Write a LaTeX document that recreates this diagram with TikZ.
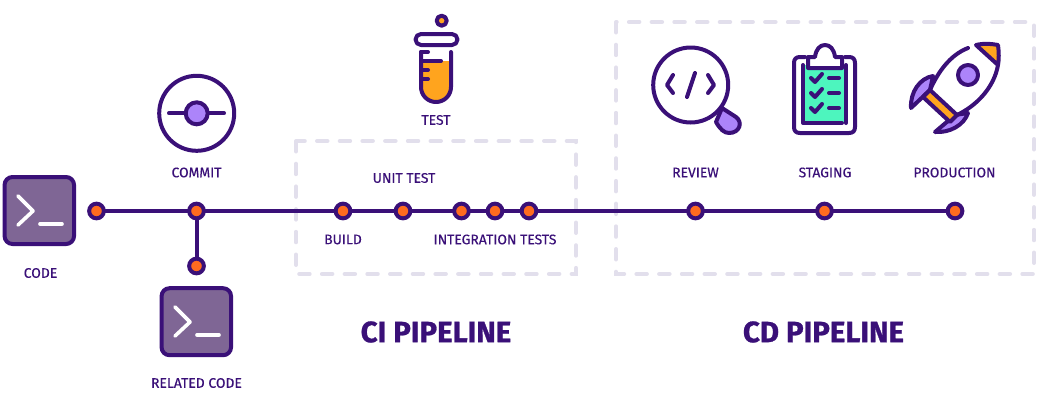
\documentclass[tikz,border=0pt]{standalone}
\usepackage{fontspec}
\setmainfont{Fira Sans}
\newfontfamily\lblfont{Fira Sans}[FakeBold=0.35]
\newfontfamily\titlefont{Fira Sans Bold}[FakeBold=0.9]
\usetikzlibrary{positioning}

\definecolor{inkpurple}{HTML}{3A1078}
\definecolor{dotorange}{HTML}{FF6B1F}
\definecolor{boxpurple}{HTML}{7F6695}
\definecolor{lilac}{HTML}{AC84FA}
\definecolor{amber}{HTML}{FFA41E}
\definecolor{mint}{HTML}{4DF5BE}
\definecolor{dashgrey}{HTML}{E2DFEC}

\tikzset{
	dot/.style={circle, draw=inkpurple, fill=dotorange, line width=4pt, minimum size=14.7pt, inner sep=0pt, outer sep=0pt},
	lbl/.style={text=inkpurple, font=\lblfont\fontsize{13.9}{14}\selectfont, inner sep=0pt},
	title/.style={text=inkpurple, font=\titlefont\fontsize{29.4}{30}\selectfont, inner sep=0pt},
	pipe/.style={draw=inkpurple, line width=4pt},
	icon/.style={draw=inkpurple, line width=4pt, line cap=round, line join=round},
	stage/.style={draw=dashgrey, line width=4pt, dash pattern=on 10.5pt off 12.2pt, line cap=round},
	prompt/.style={draw=white, line width=3.6pt, line cap=round, line join=round},
	termbox/.style={draw=inkpurple, fill=boxpurple, line width=4pt, rounded corners=8pt, minimum width=69.5pt, minimum height=67pt}
}

\begin{document}
\begin{tikzpicture}[x=1pt, y=-1pt]
	\useasboundingbox (0, 0) rectangle (1038, 400);

	% Пунктирные рамки
	\draw[stage] (296, 141) rectangle (576, 274);
	\draw[stage] (616, 22) rectangle (1034, 274);

	% Терминалы
	\node[termbox] (code) at (39.3, 210.5) {};
	\draw[prompt] (18, 196) -- (33, 211) -- (18, 225);
	\draw[prompt] (40, 224) -- (62, 224);
	\node[termbox] (related) at (196.3, 321.7) {};
	\draw[prompt] (175, 307) -- (190, 322) -- (175, 336);
	\draw[prompt] (197, 335) -- (219, 335);

	% Коммит
	\draw[icon] (196.7, 113.3) circle (37.5);
	\draw[icon] (169, 113.3) -- (224, 113.3);
	\draw[icon, fill=lilac] (196.7, 113.3) circle (11);

	% Пробирка
	\fill[amber] (421, 61) -- (451, 61) -- (451, 87) arc (0:180:15 and 15) -- cycle;
	\draw[icon] (421, 52) -- (421, 87) arc (180:0:15 and 15) -- (451, 52);
	\draw[icon] (421, 52) -- (428, 52);
	\draw[icon] (421, 61) -- (441, 61);
	\draw[icon] (421, 70) -- (428, 70);
	\draw[icon] (421, 79) -- (428, 79);
	\draw[icon, rounded corners=5.5pt] (415.5, 34) rectangle (457.5, 45);
	\draw[icon, fill=amber] (441.7, 20.7) circle (5);

	% Лупа
	\draw[icon, fill=lilac] (722, 108) -- (736, 117) .. controls (743, 122) and (740, 133) .. (729, 133) .. controls (724, 133) and (720, 129) .. (716, 122) -- cycle;
	\draw[icon, fill=white] (690.7, 85) circle (37.5);
	\draw[icon] (673, 75) -- (667, 85) -- (673, 93);
	\draw[icon] (708, 75) -- (714, 85) -- (708, 93);
	\draw[icon] (695, 73) -- (687, 97);

	% Планшет
	\draw[icon] (805, 57) -- (800, 57) .. controls (796, 57) and (794, 59) .. (794, 63) -- (794, 127) .. controls (794, 131) and (796, 133) .. (800, 133) -- (849, 133) .. controls (853, 133) and (855, 131) .. (855, 127) -- (855, 63) .. controls (855, 59) and (853, 57) .. (849, 57) -- (845, 57);
	\fill[mint] (803, 65) rectangle (846, 123);
	\draw[icon] (803, 65) -- (803, 123) -- (842, 123);
	\draw[icon] (846, 65) -- (846, 123);
	\draw[icon, fill=white] (808, 68) -- (808, 57) -- (815, 57) .. controls (816, 49) and (820, 45) .. (825, 45) .. controls (830, 45) and (834, 49) .. (835, 57) -- (842, 57) -- (842, 68) -- cycle;
	\foreach \rowy in {78, 93, 108} {
		\draw[icon] (811, \rowy) -- (815, \rowy+4) -- (822, \rowy-4);
		\draw[icon] (829, \rowy) -- (839, \rowy);
	}

	% Ракета
	\draw[icon, fill=lilac] (933, 76) .. controls (920, 78) and (910, 92) .. (911, 108) -- (930, 90) -- cycle;
	\draw[icon, fill=lilac] (968, 113) .. controls (964, 125) and (950, 133) .. (935, 132) -- (955, 115) -- cycle;
	\draw[icon] (968, 48) .. controls (950, 55) and (938, 72) .. (930, 90);
	\draw[icon] (957, 115) .. controls (976, 106) and (994, 88) .. (998, 65);
	\draw[icon, fill=amber] (930, 90) -- (957, 115) -- (950, 122) -- (923, 97) -- cycle;
	\draw[icon, fill=amber] (976, 45) .. controls (984, 43) and (993, 44) .. (998, 45) .. controls (999, 52) and (999, 60) .. (998, 65) -- cycle;
	\draw[icon, fill=lilac] (968, 75) circle (10);

	% Главная линия
	\node[dot] (start) at (96.5, 211) {};
	\node[dot] (commit) at (196.5, 211) {};
	\node[dot] (relateddot) at (196.5, 266) {};
	\node[dot] (build) at (343, 211) {};
	\node[dot] (unit) at (403, 211) {};
	\node[dot] (intA) at (461.5, 211) {};
	\node[dot] (intB) at (495, 211) {};
	\node[dot] (intC) at (529, 211) {};
	\node[dot] (review) at (695.5, 211) {};
	\node[dot] (staging) at (824.5, 211) {};
	\node[dot] (production) at (955, 211) {};
	\draw[pipe] (start) -- (commit) -- (build) -- (unit) -- (intA) -- (intB) -- (intC) -- (review) -- (staging) -- (production);
	\draw[pipe] (commit) -- (relateddot);

	% Подписи
	\node[lbl] (codelbl) at (40.5, 273) {CODE};
	\node[lbl] (commitlbl) at (196.5, 172.5) {COMMIT};
	\node[lbl] (relatedlbl) at (196.5, 383) {RELATED CODE};
	\node[lbl] (testlbl) at (436, 120) {TEST};
	\node[lbl] (unitlbl) at (404, 178) {UNIT TEST};
	\node[lbl] (buildlbl) at (343, 239.5) {BUILD};
	\node[lbl] (intlbl) at (495, 239.5) {INTEGRATION TESTS};
	\node[lbl] (reviewlbl) at (695.5, 172.5) {REVIEW};
	\node[lbl] (staginglbl) at (825, 172.5) {STAGING};
	\node[lbl] (productionlbl) at (954.5, 172.5) {PRODUCTION};
	\node[title] (citle) at (436, 332) {CI PIPELINE};
	\node[title] (cdtle) at (823.5, 332) {CD PIPELINE};
\end{tikzpicture}
\end{document}
